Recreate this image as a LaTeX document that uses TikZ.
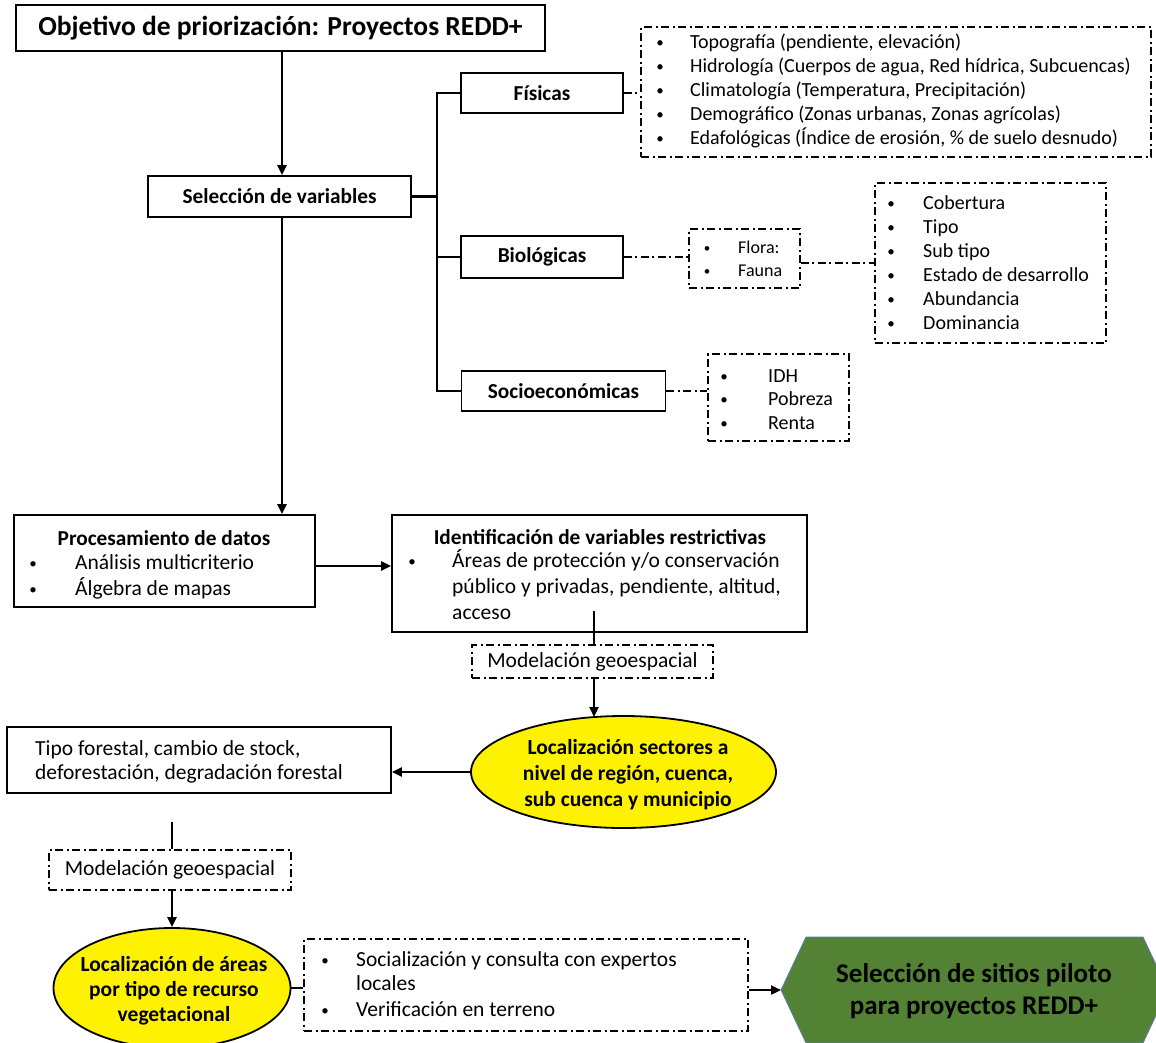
\documentclass[tikz,border=0pt]{standalone}
\usepackage{fontspec}
\setmainfont{Carlito}
\usetikzlibrary{arrows.meta,shapes.geometric}
\definecolor{hexgreen}{HTML}{548235}
\definecolor{hexline}{HTML}{5B7DB8}
\begin{document}
\begin{tikzpicture}[x=1pt,y=-1pt,
  box/.style={draw,line width=1.8pt,inner sep=0,fill=white},
  dd/.style={draw,line width=1.3pt,dash pattern=on 8pt off 3.5pt on 2pt off 3.5pt,inner sep=0},
  ddline/.style={line width=1.3pt,dash pattern=on 8pt off 3.5pt on 2pt off 3.5pt},
  conn/.style={line width=2.4pt},
  arr/.style={line width=2.2pt,-{Triangle[length=10pt,width=9pt]}},
  lbl/.style={font=\fontsize{21.3}{24}\selectfont\bfseries},
  txt/.style={inner sep=0,anchor=west,text height=0.7em,text depth=0.2em,yshift=-4pt,font=\fontsize{21.5}{24}\selectfont},
  ttx/.style={txt,font=\fontsize{20}{24}\selectfont},
  bul/.style={inner sep=0,anchor=center,text height=0.7em,text depth=0.2em,yshift=-3pt,font=\fontsize{15}{18}\selectfont},
  ell/.style={draw,line width=1.8pt,fill=yellow,ellipse,inner sep=0,align=center},
]
\useasboundingbox (0,0) rectangle (1156,1042);

% ---------- top part
\node[box,minimum width=529,minimum height=46,font=\fontsize{27.5}{30}\selectfont\bfseries] (title) at (280.5,28) {Objetivo de priorización: Proyectos REDD+};
\node[box,lbl,minimum width=263,minimum height=41] (sel) at (279.5,196.5) {Selección de variables};
\node[box,lbl,minimum width=162,minimum height=40] (fis) at (542,93) {Físicas};
\node[box,lbl,minimum width=162,minimum height=42] (bio) at (542,257) {Biológicas};
\node[box,lbl,minimum width=204,minimum height=40] (soc) at (563.5,391) {Socioeconómicas};

\coordinate (busx) at (437,0);
\draw[arr] (title.south -| 282,0) -- (sel.north -| 282,0);
\draw[conn] (sel.east) -- (sel.east -| busx);
\draw[conn] (fis.west) -- (fis.west -| busx) -- (soc.west -| busx) -- (soc.west);
\draw[conn] (bio.west) -- (bio.west -| busx);

% physical list
\node[dd,minimum width=510,minimum height=130] (phys) at (896,92) {};
\foreach \y/\t [count=\i] in {42/{Topografía (pendiente, elevación)},66/{Hidrología (Cuerpos de agua, Red hídrica, Subcuencas)},90/{Climatología (Temperatura, Precipitación)},114/{Demográfico (Zonas urbanas, Zonas agrícolas)},138/{Edafológicas (Índice de erosión, \% de suelo desnudo)}}{
  \node[bul] (physb\i) at (660,\y) {\textbullet};
  \node[ttx] (physt\i) at (690,\y) {\t};
}
\draw[ddline] (fis.east) -- (fis.east -| phys.west);

% flora / fauna
\node[dd,minimum width=111,minimum height=59] (flora) at (744.5,258.5) {};
\node[bul,font=\fontsize{13}{16}\selectfont] (florab1) at (707,247) {\textbullet};
\node[txt,font=\fontsize{18}{20}\selectfont] (florat1) at (738,247) {Flora:};
\node[bul,font=\fontsize{13}{16}\selectfont] (florab2) at (707,270) {\textbullet};
\node[txt,font=\fontsize{18}{20}\selectfont] (florat2) at (738,270) {Fauna};
\draw[ddline] (bio.east) -- (bio.east -| flora.west);

% cobertura list
\node[dd,minimum width=231,minimum height=160] (cob) at (990.5,263) {};
\foreach \y/\t [count=\i] in {203/Cobertura,227/Tipo,251/Sub tipo,275/Estado de desarrollo,299/Abundancia,323/Dominancia}{
  \node[bul] (cobb\i) at (891,\y) {\textbullet};
  \node[ttx] (cobt\i) at (923,\y) {\t};
}
\draw[ddline] (flora.east |- cob.west) -- (cob.west);

% IDH list
\node[dd,minimum width=141,minimum height=87] (idh) at (778.5,397.5) {};
\foreach \y/\t [count=\i] in {376/IDH,399/Pobreza,423/Renta}{
  \node[bul] (idhb\i) at (724,\y) {\textbullet};
  \node[ttx] (idht\i) at (768,\y) {\t};
}
\draw[ddline] (soc.east) -- (soc.east -| idh.west);

% ---------- middle part
\node[box,minimum width=301,minimum height=92] (proc) at (164.5,561) {};
\node[lbl,inner sep=0] (proct) at (164,538) {Procesamiento de datos};
\node[bul] (procb1) at (33,563) {\textbullet};
\node[txt] (proct1) at (75,563) {Análisis multicriterio};
\node[bul] (procb2) at (33,589) {\textbullet};
\node[txt] (proct2) at (75,589) {Álgebra de mapas};

\draw[arr] (sel.south -| 282,0) -- (proc.north -| 282,0);

\node[box,minimum width=415,minimum height=117] (iden) at (599.5,573.5) {};
\node[lbl,inner sep=0] (ident) at (600,537) {Identificación de variables restrictivas};
\node[bul] (idenb1) at (412,561) {\textbullet};
\node[txt] (ident1) at (452,561) {Áreas de protección y/o conservación};
\node[txt] (ident2) at (452,587) {público y privadas, pendiente, altitud,};
\node[txt] (ident3) at (452,613) {acceso};

\draw[arr] ([yshift=-5pt]proc.east) -- ([yshift=-5pt]proc.east -| iden.west);

\node[dd,minimum width=241,minimum height=33,font=\fontsize{21.5}{24}\selectfont] (mod1) at (592.5,661.5) {Modelación geoespacial};
\coordinate (ik) at (594,611);
\draw[conn] (ik) -- (ik |- mod1.north);

\node[ell,minimum width=305,minimum height=112] (ell1) at (623.5,772) {};
\node[inner sep=0,align=center,font=\fontsize{21.5}{26}\selectfont\bfseries] (ell1t) at (628,775) {Localización sectores a\\nivel de región, cuenca,\\sub cuenca y municipio};
\draw[arr] (mod1.south -| ik) -- (ik |- 0,717);

\node[box,minimum width=384,minimum height=66] (tipo) at (199,760) {};
\node[txt] (tipot1) at (35,749) {Tipo forestal, cambio de stock,};
\node[txt] (tipot2) at (35,773) {deforestación, degradación forestal};
\draw[arr] (ell1.west) -- (ell1.west -| tipo.east);

% ---------- bottom part
\node[dd,minimum width=242,minimum height=40,font=\fontsize{21.5}{24}\selectfont] (mod2) at (170,870) {Modelación geoespacial};
\coordinate (tk) at (172,822);
\draw[conn] (tk) -- (tk |- mod2.north);

\node[ell,minimum width=237,minimum height=120] (ell2) at (172,988) {};
\node[inner sep=0,align=center,font=\fontsize{21.5}{25}\selectfont\bfseries] (ell2t) at (174,991) {Localización de áreas\\por tipo de recurso\\vegetacional};
\draw[arr] (mod2.south -| tk) -- (ell2.north -| tk);

\node[dd,minimum width=444,minimum height=92] (soc2) at (526,985) {};
\node[bul] (soc2b1) at (325,960) {\textbullet};
\node[txt] (soc2t1) at (356,960) {Socialización y consulta con expertos};
\node[txt] (soc2t2) at (356,984) {locales};
\node[bul] (soc2b2) at (325,1010) {\textbullet};
\node[txt] (soc2t3) at (356,1010) {Verificación en terreno};
\draw[conn] (ell2.east) -- (ell2.east -| soc2.west);

\begin{scope}
\clip (0,0) rectangle (1156,1042);
\filldraw[fill=hexgreen,draw=hexline,line width=0.8pt] (781,990) -- (806,937) -- (1143,937) -- (1168,990) -- (1143,1043) -- (806,1043) -- cycle;
\end{scope}
\coordinate (hexl) at (781,990);
\node[inner sep=0,align=center,font=\fontsize{27}{32}\selectfont\bfseries] (hex) at (974,991) {Selección de sitios piloto\\para proyectos REDD+};
\draw[arr] (soc2.east |- hexl) -- (hexl);
\end{tikzpicture}
\end{document}
